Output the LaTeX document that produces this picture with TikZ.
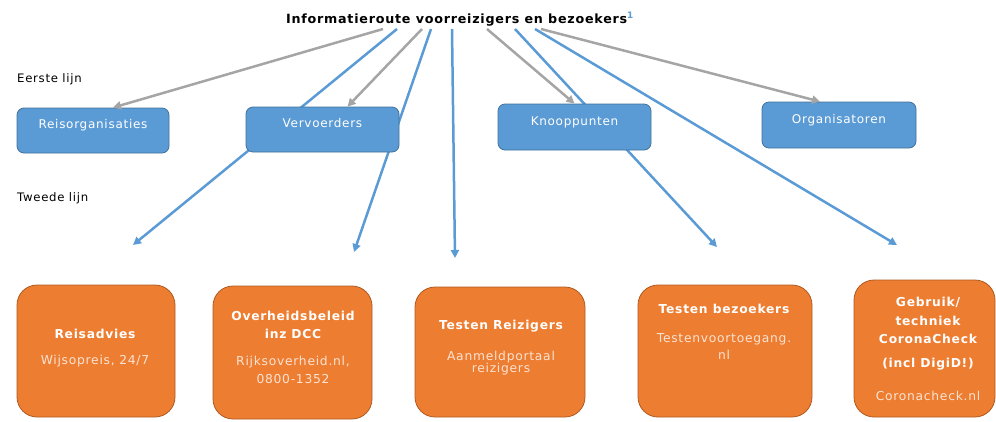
\documentclass[tikz,border=0pt]{standalone}
\usepackage{fontspec}
\setmainfont{DejaVu Sans}[LetterSpace=6]
\usetikzlibrary{arrows.meta}

\definecolor{blauw}{HTML}{5B9BD5}
\definecolor{blauwrand}{HTML}{41719C}
\definecolor{oranje}{HTML}{ED7D31}
\definecolor{oranjerand}{HTML}{AE5A21}
\definecolor{grijs}{HTML}{A5A5A5}
\definecolor{zacht}{HTML}{FBE3D3}

\begin{document}
\begin{tikzpicture}[%
      x=1pt,y=-1pt,
      blauwblok/.style={draw=blauwrand, fill=blauw, rounded corners=7pt,
        line width=0.8pt, text=white, font=\fontsize{12}{14}\selectfont,
        text height=9pt, text depth=13pt, inner sep=0pt},
      oranjeblok/.style={draw=oranjerand, fill=oranje, rounded corners=20pt,
        line width=0.8pt, inner sep=0pt},
      bloktekst/.style={anchor=base, align=center, text=white, inner sep=0pt,
        font=\bfseries\fontsize{12.3}{18}\selectfont},
      grijspijl/.style={draw=grijs, line width=2.5pt,
        -{Triangle[length=8pt,width=8pt]}},
      blauwpijl/.style={draw=blauw, line width=2.5pt,
        -{Triangle[length=8pt,width=8pt]}}]

      \useasboundingbox (0,0) rectangle (996,421);

      \node[anchor=base, inner sep=0pt, font=\bfseries\fontsize{12.7}{14}\selectfont]
        (titel) at (460,23)
        {Informatieroute voorreizigers en bezoekers\textsuperscript{\color{blauw}1}};

      \node[anchor=base west, inner sep=0pt, font=\fontsize{11.7}{14}\selectfont]
        (eerste) at (17,82) {Eerste lijn};
      \node[anchor=base west, inner sep=0pt, font=\fontsize{11.7}{14}\selectfont]
        (tweede) at (17,201) {Tweede lijn};

      % beginpunten onder de titel
      \coordinate (g1) at (383,29);
      \coordinate (b1) at (397,29);
      \coordinate (g2) at (422,29);
      \coordinate (b2) at (431,29);
      \coordinate (b3) at (452,29);
      \coordinate (g3) at (487,29);
      \coordinate (b4) at (515,29);
      \coordinate (b5) at (535,29);
      \coordinate (g4) at (541,29);

      % eindpunten boven de oranje blokken
      \coordinate (p1) at (133,245);
      \coordinate (p2) at (354,252);
      \coordinate (p3) at (455,258);
      \coordinate (p4) at (717,247);
      \coordinate (p5) at (897,245);

      % tweede lijn
      \draw[blauwpijl] (b1) -- (p1);
      \draw[blauwpijl] (b2) -- (p2);
      \draw[blauwpijl] (b3) -- (p3);
      \draw[blauwpijl] (b4) -- (p4);
      \draw[blauwpijl] (b5) -- (p5);

      % eerste lijn
      \node[blauwblok, minimum width=152pt, minimum height=45pt] (reis) at (93,130.5) {Reisorganisaties};
      \node[blauwblok, minimum width=153pt, minimum height=45pt] (vervoer) at (322.5,129.5) {Vervoerders};
      \node[blauwblok, minimum width=153pt, minimum height=46pt] (knoop) at (574.5,127) {Knooppunten};
      \node[blauwblok, minimum width=154pt, minimum height=46pt] (organ) at (839,125) {Organisatoren};

      \draw[grijspijl] (g1) -- ([xshift=20pt]reis.north);
      \draw[grijspijl] (g2) -- ([xshift=25pt]vervoer.north);
      \draw[grijspijl] (g3) -- (knoop.north);
      \draw[grijspijl] (g4) -- ([xshift=-19pt]organ.north);

      \node[oranjeblok, minimum width=158pt, minimum height=132pt] (advies) at (96,351) {};
      \node[oranjeblok, minimum width=159pt, minimum height=133pt] (beleid) at (292.5,352.5) {};
      \node[oranjeblok, minimum width=170pt, minimum height=130pt] (reizigers) at (500,352) {};
      \node[oranjeblok, minimum width=174pt, minimum height=132pt] (bezoekers) at (725,351) {};
      \node[oranjeblok, minimum width=141pt, minimum height=137pt] (check) at (924.5,348.5) {};

      % ankers op de onderste regel
      \node[bloktekst] at (95,364)
        {Reisadvies\\[8pt]{\mdseries\color{zacht}Wijsopreis, 24/7}};
      \node[bloktekst] at (293,383)
        {Overheidsbeleid\\inz DCC\\[9pt]{\mdseries\color{zacht}Rijksoverheid.nl,}\\{\mdseries\color{zacht}0800-1352}};
      \node[bloktekst] at (501,372)
        {Testen Reizigers\\[13pt]{\mdseries\color{zacht}Aanmeldportaal}\\[-6pt]{\mdseries\color{zacht}reizigers}};
      \node[bloktekst] at (724,359)
        {Testen bezoekers\\[11pt]{\mdseries\color{zacht}Testenvoortoegang.}\\[-1pt]{\mdseries\color{zacht}nl}};
      \node[bloktekst] at (928,400)
        {Gebruik/\\[1pt]techniek\\CoronaCheck\\[6pt](incl DigiD!)\\[15pt]{\mdseries\color{zacht}Coronacheck.nl}};

    \end{tikzpicture}
\end{document}
